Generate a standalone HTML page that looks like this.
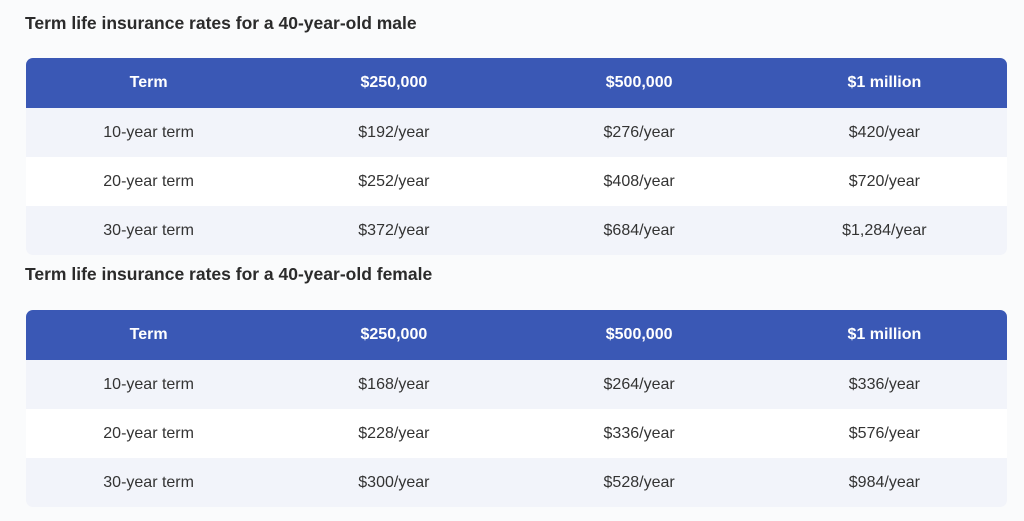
<!DOCTYPE html>
<html><head><meta charset="utf-8"><style>
body{margin:0;width:1024px;height:521px;background:#fafbfc;font-family:"Liberation Sans",sans-serif;color:#2e2e2e;position:relative;overflow:hidden}
h2{position:absolute;left:25px;margin:0;font-size:17.5px;font-weight:bold;color:#2b2b2b}
table{position:absolute;left:26px;width:981px;border-collapse:separate;border-spacing:0;table-layout:fixed;border-radius:7px;overflow:hidden}
th{background:#3a58b5;color:#fff;font-size:16px;font-weight:bold;height:48px;text-align:center}
td{height:47px;text-align:center;font-size:16px;color:#333}
tr.o td{background:#f2f4fa}
tr.e td{background:#fff}
</style></head><body>
<h2 style="top:13px">Term life insurance rates for a 40-year-old male</h2>
<table style="top:58px">
<tr><th>Term</th><th>$250,000</th><th>$500,000</th><th>$1 million</th></tr>
<tr class="o"><td>10-year term</td><td>$192/year</td><td>$276/year</td><td>$420/year</td></tr>
<tr class="e"><td>20-year term</td><td>$252/year</td><td>$408/year</td><td>$720/year</td></tr>
<tr class="o"><td>30-year term</td><td>$372/year</td><td>$684/year</td><td>$1,284/year</td></tr>
</table>
<h2 style="top:264px">Term life insurance rates for a 40-year-old female</h2>
<table style="top:310px">
<tr><th>Term</th><th>$250,000</th><th>$500,000</th><th>$1 million</th></tr>
<tr class="o"><td>10-year term</td><td>$168/year</td><td>$264/year</td><td>$336/year</td></tr>
<tr class="e"><td>20-year term</td><td>$228/year</td><td>$336/year</td><td>$576/year</td></tr>
<tr class="o"><td>30-year term</td><td>$300/year</td><td>$528/year</td><td>$984/year</td></tr>
</table>
</body></html>
